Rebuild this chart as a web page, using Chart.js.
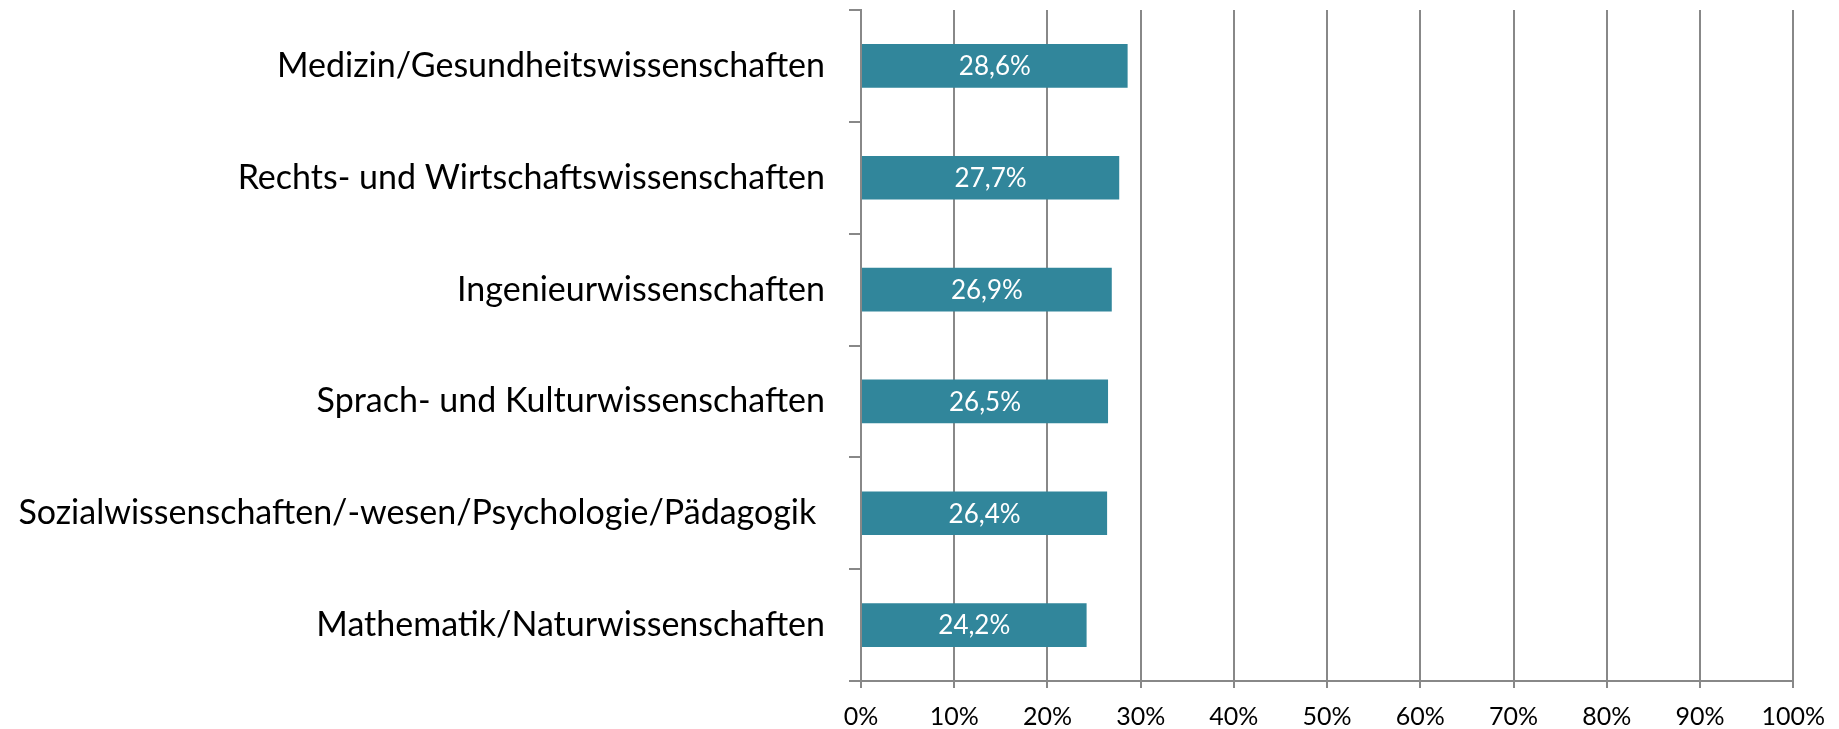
<!DOCTYPE html>
<html>
<head>
<meta charset="utf-8">
<script src="https://cdn.jsdelivr.net/npm/chart.js@4.4.0/dist/chart.umd.min.js"></script>
<style>
  html, body { margin: 0; padding: 0; background: #fff; }
  #wrap { width: 1839px; height: 729px; }
</style>
</head>
<body>
<div id="wrap"><canvas id="chart" width="1839" height="729"></canvas></div>
<script>
const categories = [
    'Medizin/Gesundheitswissenschaften',
    'Rechts- und Wirtschaftswissenschaften',
    'Ingenieurwissenschaften',
    'Sprach- und Kulturwissenschaften',
    'Sozialwissenschaften/-wesen/Psychologie/Pädagogik ',
    'Mathematik/Naturwissenschaften'
];
const shares = [28.6, 27.7, 26.9, 26.5, 26.4, 24.2];
const xTicks = [0, 10, 20, 30, 40, 50, 60, 70, 80, 90, 100];

const fmt = v => v.toFixed(1).replace('.', ',') + '%';

// white value labels centred in each bar
const barLabels = {
    id: 'barLabels',
    afterDatasetsDraw(chart) {
        const { ctx } = chart;
        ctx.save();
        ctx.fillStyle = '#ffffff';
        ctx.font = '26px Lato';
        ctx.textAlign = 'center';
        ctx.textBaseline = 'middle';
        chart.getDatasetMeta(0).data.forEach((bar, i) => {
            const x = (bar.x + bar.base) / 2;
            ctx.fillText(fmt(shares[i]), x, bar.y + 1);
        });
        ctx.restore();
    }
};

new Chart(document.getElementById('chart'), {
    type: 'bar',
    data: {
        labels: categories,
        datasets: [{
            data: shares,
            backgroundColor: '#31869b',
            borderWidth: 0,
            categoryPercentage: 1,
            barPercentage: 0.39
        }]
    },
    options: {
        indexAxis: 'y',
        responsive: false,
        animation: false,
        layout: { padding: { top: 10, right: 43, left: 0, bottom: 0 } },
        plugins: {
            legend: { display: false },
            tooltip: { enabled: false }
        },
        scales: {
            x: {
                min: 0,
                max: 100,
                afterBuildTicks(axis) {
                    axis.ticks = xTicks.map(v => ({ value: v }));
                },
                afterFit(axis) {
                    axis.height = 48;
                },
                ticks: {
                    color: '#000',
                    font: { family: 'Lato', size: 25 },
                    padding: 14,
                    callback: v => v + '%'
                },
                grid: {
                    color: '#888888',
                    lineWidth: 2,
                    tickLength: 7,
                    drawOnChartArea: true
                },
                border: { color: '#888888', width: 2 }
            },
            y: {
                afterFit(axis) {
                    axis.width = 861;
                    axis.paddingTop = 0;
                    axis.paddingBottom = 0;
                },
                ticks: {
                    color: '#000',
                    font: { family: 'Lato', size: 34 },
                    padding: 24
                },
                grid: {
                    offset: true,
                    color: '#888888',
                    lineWidth: 2,
                    tickLength: 12,
                    drawOnChartArea: false
                },
                border: { color: '#888888', width: 2 }
            }
        }
    },
    plugins: [barLabels]
});
</script>
</body>
</html>
